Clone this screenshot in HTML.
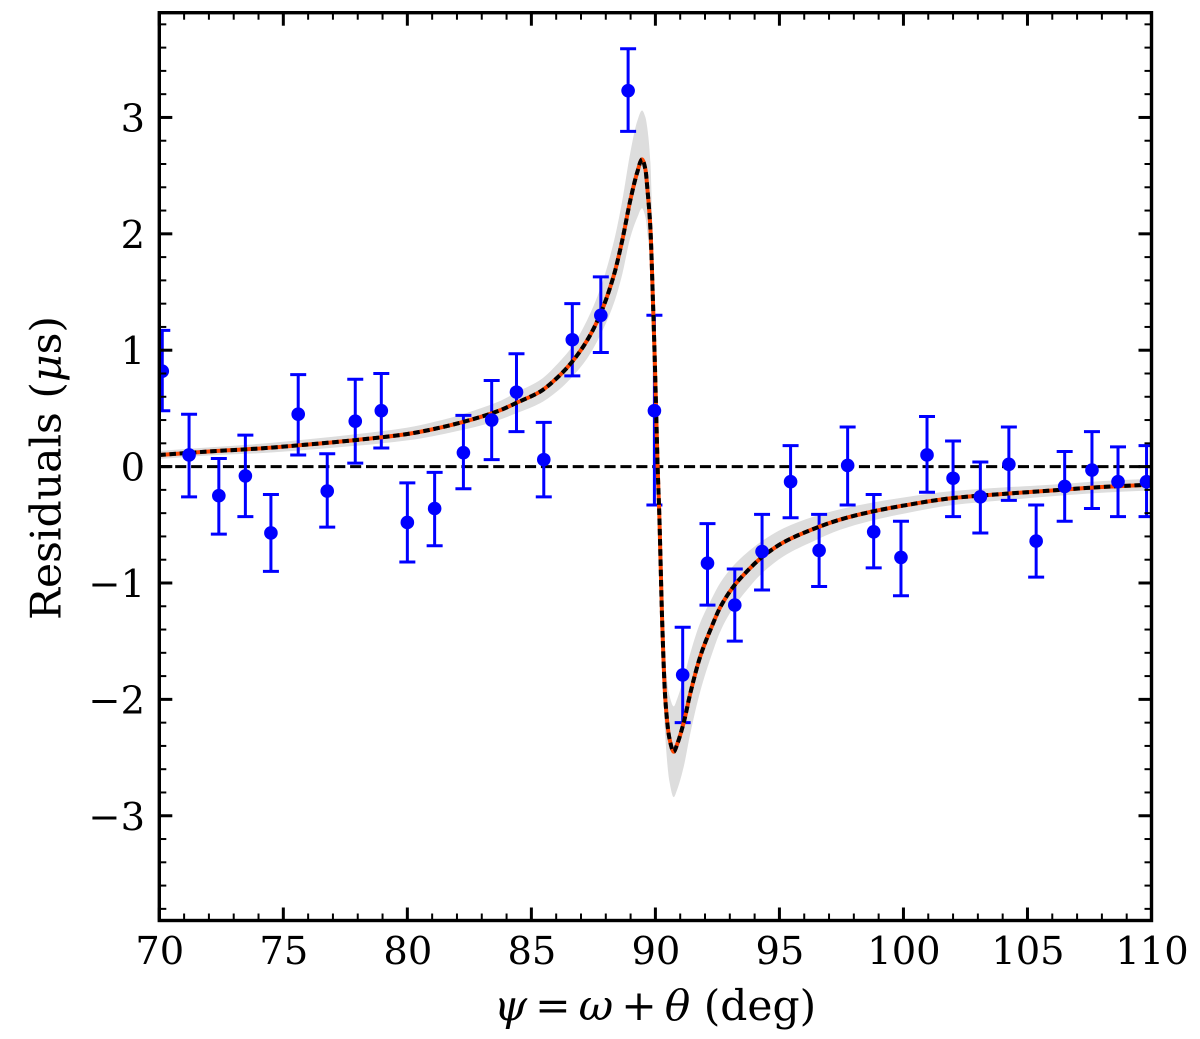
<!DOCTYPE html>
<html lang="en">
<head>
<meta charset="utf-8">
<title>Residuals vs psi</title>
<style>
html,body{margin:0;padding:0;background:#fff;}
svg{display:block;}
text{font-family:"DejaVu Serif","Liberation Serif",serif;fill:#000;}
</style>
</head>
<body>
<svg id="chart" xmlns="http://www.w3.org/2000/svg" width="1200" height="1039" viewBox="0 0 1200 1039">
  <rect x="0" y="0" width="1200" height="1039" fill="#ffffff"/>
  <defs><clipPath id="plot-clip"><rect x="159.3" y="12.7" width="992.2" height="907.8"/></clipPath></defs>
  <g id="band-layer" clip-path="url(#plot-clip)"></g>
  <g id="zero-layer" clip-path="url(#plot-clip)"></g>
  <g id="bar-layer" clip-path="url(#plot-clip)"></g>
  <g id="curve-layer" clip-path="url(#plot-clip)"></g>
  <g id="point-layer" clip-path="url(#plot-clip)"></g>
  <g id="tick-layer"></g>
  <rect x="159.3" y="12.7" width="992.2" height="907.8" fill="none" stroke="#000" stroke-width="3.4"/>
  <text x="655" y="1020" font-size="42.4" text-anchor="middle"><tspan font-style="italic">ψ</tspan><tspan dx="8">=</tspan><tspan dx="8" font-style="italic">ω</tspan><tspan dx="8">+</tspan><tspan dx="8" font-style="italic">θ</tspan><tspan> (deg)</tspan></text>
  <text x="0" y="0" font-size="42.5" text-anchor="middle" transform="translate(60.5 468) rotate(-90)">Residuals (<tspan font-style="italic">μ</tspan>s)</text>
</svg>
<script>
const xTickValues = [70, 75, 80, 85, 90, 95, 100, 105, 110];
const xTickLabels = ['70', '75', '80', '85', '90', '95', '100', '105', '110'];
const yTickValues = [-3, -2, -1, 0, 1, 2, 3];
const yTickLabels = ['\u22123', '\u22122', '\u22121', '0', '1', '2', '3'];

const pointPsi = [70.12, 71.2, 72.4, 73.47, 74.5, 75.6, 76.77, 77.9, 78.95, 80.0, 81.1, 82.26, 83.4, 84.4, 85.5, 86.65, 87.8, 88.9, 89.96, 91.1, 92.1, 93.2, 94.3, 95.45, 96.6, 97.75, 98.8, 99.9, 100.95, 102.0, 103.1, 104.25, 105.35, 106.5, 107.6, 108.65, 109.8];
const pointResidual = [0.82, 0.10, -0.25, -0.08, -0.57, 0.45, -0.21, 0.39, 0.48, -0.48, -0.36, 0.12, 0.40, 0.64, 0.06, 1.09, 1.30, 3.23, 0.48, -1.79, -0.83, -1.19, -0.73, -0.13, -0.72, 0.01, -0.56, -0.78, 0.10, -0.10, -0.26, 0.02, -0.64, -0.17, -0.03, -0.13, -0.13];
const pointUpper = [1.17, 0.45, 0.07, 0.27, -0.24, 0.79, 0.11, 0.75, 0.80, -0.14, -0.05, 0.44, 0.74, 0.97, 0.38, 1.40, 1.63, 3.59, 1.30, -1.38, -0.49, -0.88, -0.41, 0.18, -0.41, 0.34, -0.24, -0.47, 0.43, 0.22, 0.04, 0.34, -0.33, 0.13, 0.30, 0.17, 0.18];
const pointLower = [0.48, -0.26, -0.58, -0.43, -0.90, 0.10, -0.52, 0.03, 0.16, -0.82, -0.68, -0.19, 0.06, 0.30, -0.26, 0.78, 0.98, 2.88, -0.33, -2.20, -1.19, -1.50, -1.06, -0.44, -1.03, -0.33, -0.87, -1.11, -0.22, -0.43, -0.57, -0.29, -0.95, -0.47, -0.36, -0.43, -0.43];

const curvePsi = [70, 72, 74, 76, 78, 80, 81, 82, 83, 83.75, 84.42, 85.36, 86.17, 86.64, 87.25, 87.78, 88.32, 88.66, 88.99, 89.27, 89.46, 89.6, 89.68, 89.8, 89.9, 89.97, 90.03, 90.09, 90.16, 90.27, 90.4, 90.57, 90.74, 90.87, 91.14, 91.41, 91.81, 92.28, 92.61, 93.15, 93.69, 94.23, 95.17, 96.38, 97.45, 98.66, 100, 102, 104, 106, 108, 110];
const curveResidual = [0.10, 0.13, 0.155, 0.19, 0.23, 0.28, 0.32, 0.37, 0.43, 0.485, 0.55, 0.645, 0.79, 0.90, 1.085, 1.31, 1.64, 1.94, 2.29, 2.53, 2.64, 2.55, 2.38, 2.04, 1.43, 0.95, 0.48, 0.0, -0.43, -1.31, -2.0, -2.34, -2.45, -2.39, -2.2, -1.945, -1.63, -1.37, -1.21, -1.03, -0.90, -0.79, -0.65, -0.535, -0.455, -0.39, -0.335, -0.27, -0.235, -0.205, -0.175, -0.155];
const bandUpper = [0.135, 0.165, 0.195, 0.235, 0.28, 0.335, 0.38, 0.435, 0.505, 0.565, 0.64, 0.745, 0.91, 1.03, 1.26, 1.53, 1.93, 2.28, 2.70, 2.97, 3.06, 3.0, 2.9, 2.61, 1.85, 1.2, 0.65, 0.1, -0.3, -1.08, -1.68, -1.97, -2.06, -2.0, -1.82, -1.6, -1.34, -1.13, -1.0, -0.85, -0.74, -0.65, -0.53, -0.43, -0.367, -0.313, -0.265, -0.21, -0.18, -0.155, -0.125, -0.105];
const bandLower = [0.065, 0.095, 0.115, 0.145, 0.18, 0.225, 0.26, 0.305, 0.355, 0.405, 0.46, 0.545, 0.67, 0.77, 0.93, 1.13, 1.40, 1.65, 1.97, 2.14, 2.22, 2.14, 2.0, 1.73, 1.22, 0.8, 0.38, -0.05, -0.52, -1.53, -2.32, -2.71, -2.84, -2.78, -2.58, -2.29, -1.93, -1.61, -1.42, -1.21, -1.06, -0.93, -0.77, -0.64, -0.543, -0.467, -0.405, -0.33, -0.29, -0.255, -0.225, -0.205];

const SVG_NS = 'http://www.w3.org/2000/svg';
const plotLeft = 159.3, plotRight = 1151.5, plotTop = 12.7, plotBottom = 920.5;
const xMin = 70, xMax = 110, yMin = -3.9, yMax = 3.9;
function xScale(v) { return plotLeft + (v - xMin) / (xMax - xMin) * (plotRight - plotLeft); }
function yScale(v) { return plotBottom - (v - yMin) / (yMax - yMin) * (plotBottom - plotTop); }

function make(tag, attrs, parent) {
  const el = document.createElementNS(SVG_NS, tag);
  for (const k in attrs) el.setAttribute(k, attrs[k]);
  parent.appendChild(el);
  return el;
}

function monotoneSlopes(xs, ys) {
  const n = xs.length, d = [], m = new Array(n);
  for (let i = 0; i < n - 1; i++) d.push((ys[i + 1] - ys[i]) / (xs[i + 1] - xs[i]));
  m[0] = d[0];
  m[n - 1] = d[n - 2];
  for (let i = 1; i < n - 1; i++) {
    if (d[i - 1] * d[i] <= 0) { m[i] = 0; continue; }
    const h0 = xs[i] - xs[i - 1], h1 = xs[i + 1] - xs[i];
    const w1 = 2 * h1 + h0, w2 = h1 + 2 * h0;
    m[i] = (w1 + w2) / (w1 / d[i - 1] + w2 / d[i]);
  }
  return m;
}

function smoothSegments(xs, ys) {
  const px = xs.map(xScale), py = ys.map(yScale), m = monotoneSlopes(px, py);
  let out = '';
  for (let i = 0; i < px.length - 1; i++) {
    const h = (px[i + 1] - px[i]) / 3;
    out += 'C' + (px[i] + h).toFixed(2) + ' ' + (py[i] + m[i] * h).toFixed(2) + ' ' + (px[i + 1] - h).toFixed(2) + ' ' + (py[i + 1] - m[i + 1] * h).toFixed(2) + ' ' + px[i + 1].toFixed(2) + ' ' + py[i + 1].toFixed(2);
  }
  return { start: px[0].toFixed(2) + ' ' + py[0].toFixed(2), body: out };
}

function smoothPath(xs, ys) {
  const s = smoothSegments(xs, ys);
  return 'M' + s.start + s.body;
}

const bandLayer = document.getElementById('band-layer');
const zeroLayer = document.getElementById('zero-layer');
const barLayer = document.getElementById('bar-layer');
const curveLayer = document.getElementById('curve-layer');
const pointLayer = document.getElementById('point-layer');
const tickLayer = document.getElementById('tick-layer');

const revPsi = curvePsi.slice().reverse();
const revLower = bandLower.slice().reverse();
const lowerSeg = smoothSegments(revPsi, revLower);
const bandPath = make('path', { d: smoothPath(curvePsi, bandUpper) + 'L' + lowerSeg.start + lowerSeg.body + 'Z', fill: '#dddddd', stroke: 'none' }, bandLayer);



const zeroLine = make('line', { x1: xScale(xMin), x2: xScale(xMax), y1: yScale(0), y2: yScale(0), stroke: '#000', 'stroke-width': 3, 'stroke-dasharray': '11.1 4.8' }, zeroLayer);



pointPsi.forEach(function (psi, i) {
  const cx = xScale(psi), hi = yScale(pointUpper[i]), lo = yScale(pointLower[i]);
  const group = make('g', { stroke: '#0000ff', 'stroke-width': 3, fill: 'none' }, barLayer);
  
  
  make('line', { x1: cx, x2: cx, y1: hi, y2: lo }, group);
  make('line', { x1: cx - 8, x2: cx + 8, y1: hi, y2: hi }, group);
  make('line', { x1: cx - 8, x2: cx + 8, y1: lo, y2: lo }, group);
});

const curveD = smoothPath(curvePsi, curveResidual);
const curveBase = make('path', { d: curveD, fill: 'none', stroke: '#ff4500', 'stroke-width': 4 }, curveLayer);


const curveDots = make('path', { d: curveD, fill: 'none', stroke: '#000', 'stroke-width': 4, 'stroke-dasharray': '6.5 3.7' }, curveLayer);



pointPsi.forEach(function (psi, i) {
  const dot = make('circle', { cx: xScale(psi), cy: yScale(pointResidual[i]), r: 6.8, fill: '#0000ff' }, pointLayer);
  
  
});

function tick(x1, y1, x2, y2, width, name) {
  const t = make('line', { x1: x1, y1: y1, x2: x2, y2: y2, stroke: '#000', 'stroke-width': width }, tickLayer);
  
  
}

for (let v = xMin; v <= xMax; v += 1) {
  const major = xTickValues.indexOf(v) >= 0;
  const len = major ? 13 : 7, w = major ? 3 : 2, x = xScale(v);
  tick(x, plotBottom, x, plotBottom - len, w, major ? 'x-major-tick' : 'x-minor-tick');
  tick(x, plotTop, x, plotTop + len, w, major ? 'x-major-tick-top' : 'x-minor-tick-top');
}
for (let k = -19; k <= 19; k++) {
  const v = k * 0.2;
  const major = k % 5 === 0;
  const len = major ? 13 : 7, w = major ? 3 : 2, y = yScale(v);
  tick(plotLeft, y, plotLeft + len, y, w, major ? 'y-major-tick' : 'y-minor-tick');
  tick(plotRight, y, plotRight - len, y, w, major ? 'y-major-tick-right' : 'y-minor-tick-right');
}

xTickValues.forEach(function (v, i) {
  const label = make('text', { x: xScale(v) + 0.5, y: 964, 'font-size': 38.4, 'text-anchor': 'middle' }, tickLayer);
  label.textContent = xTickLabels[i];
  
  
});
yTickValues.forEach(function (v, i) {
  const label = make('text', { x: 145, y: yScale(v) + 14, 'font-size': 38.4, 'text-anchor': 'end' }, tickLayer);
  label.textContent = yTickLabels[i];
  
  
});
</script>
</body>
</html>
